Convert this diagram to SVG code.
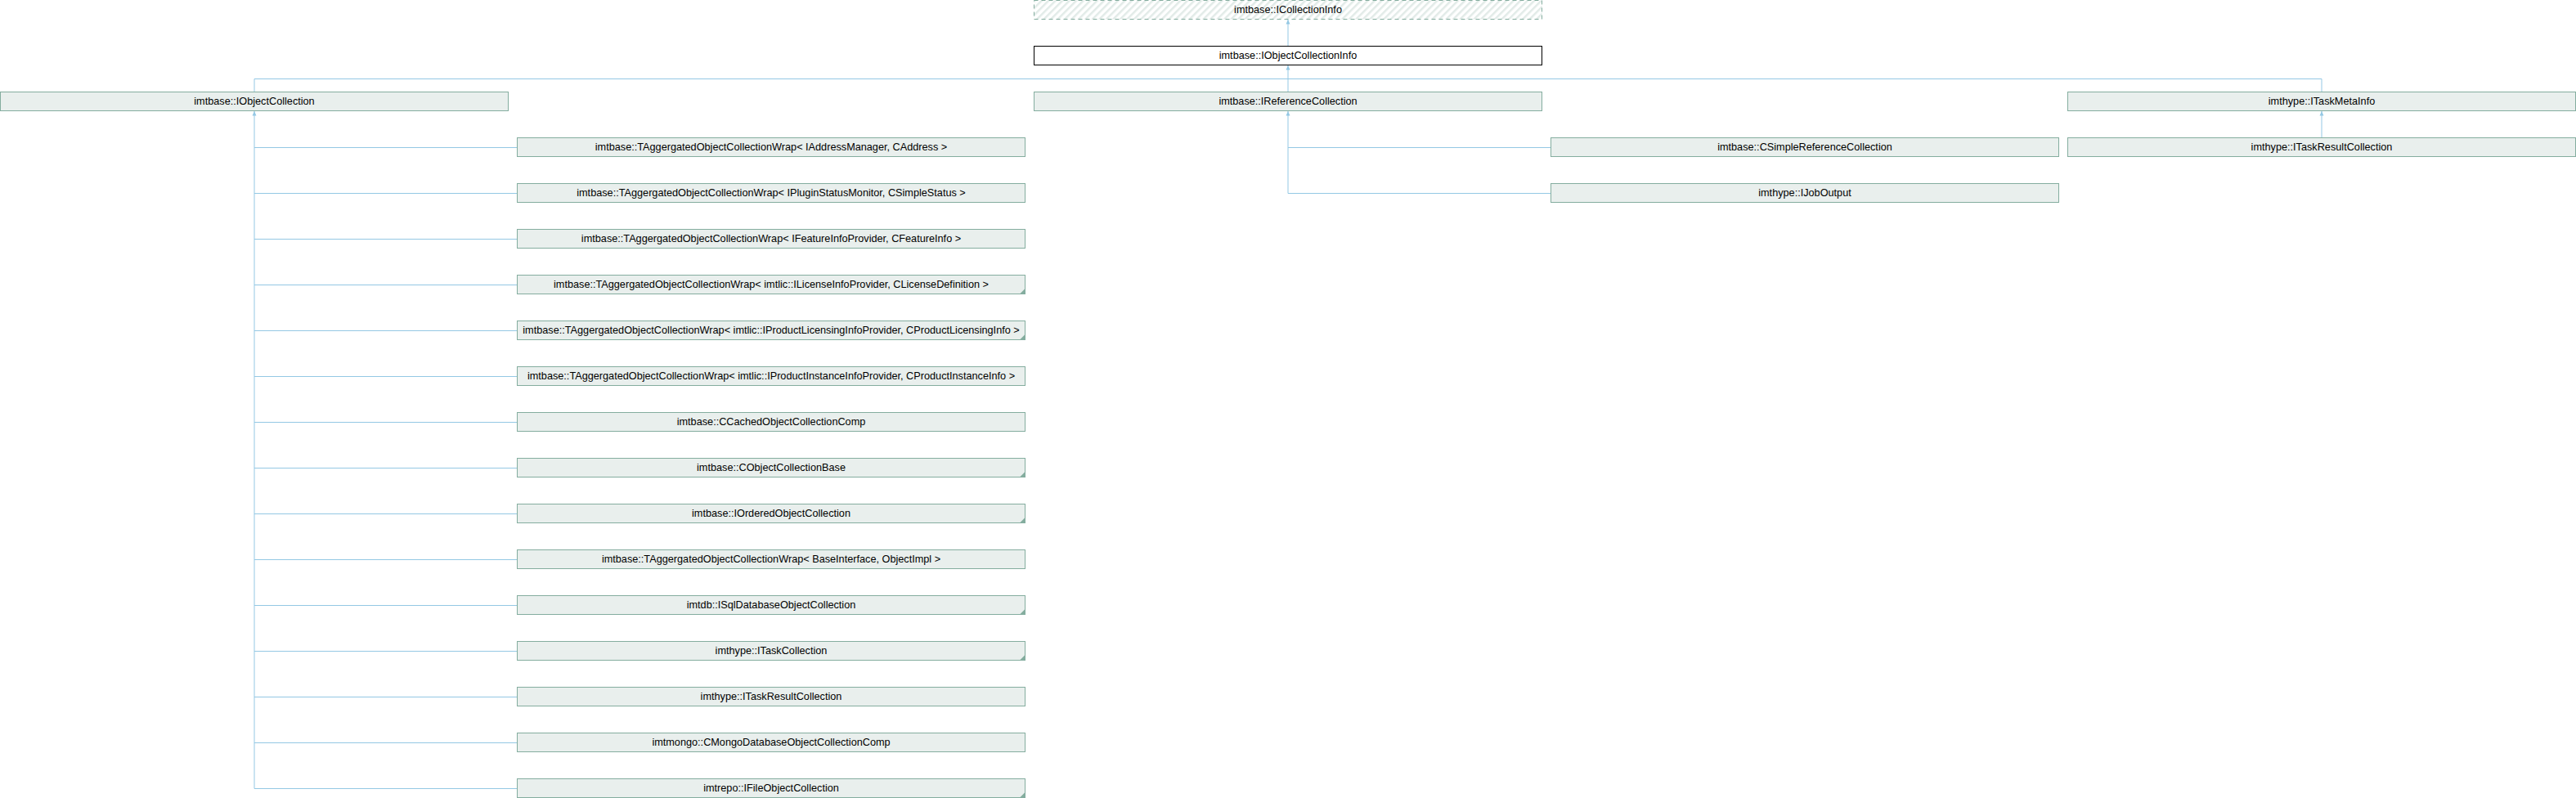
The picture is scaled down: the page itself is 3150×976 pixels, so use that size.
<svg xmlns="http://www.w3.org/2000/svg" width="3150" height="976" viewBox="0 0 3150 976">
<style>
  .box{fill:#e9efed;stroke:#84ad9f;stroke-width:1}
  .doc{fill:#ffffff;stroke:#000000;stroke-width:1}
  .undoc{fill:url(#hatch);stroke:#84ad9f;stroke-width:1;stroke-dasharray:5 4}
  .lbl{font-family:"Liberation Sans",Arial,sans-serif;font-size:12.7px;fill:#000;text-anchor:middle}
  .edge{fill:none;stroke:#94c8e4;stroke-width:1}
  .more{fill:#84ad9f}
</style>
<defs>
  <pattern id="hatch" patternUnits="userSpaceOnUse" width="6" height="6" patternTransform="rotate(45)">
    <rect x="0" y="0" width="6" height="6" fill="#ffffff"/>
    <rect x="0" y="0" width="2.5" height="6" fill="#e2ebe8"/>
  </pattern>
  <marker id="arr" markerUnits="userSpaceOnUse" markerWidth="6" markerHeight="6" viewBox="0 0 6 6" refX="5.5" refY="3" orient="auto">
    <path d="M0,0.5 L5.5,3 L0,5.5 z" fill="#94c8e4"/>
  </marker>
</defs>
<rect width="3150" height="976" fill="#ffffff"/>

<g id="connectors">
  <path class="edge" d="M1575 56.5 V24" marker-end="url(#arr)"/>
  <path class="edge" d="M311 112.5 V96.5 H2839 V112.5"/>
  <path class="edge" d="M1575 112.5 V80" marker-end="url(#arr)"/>
  <path class="edge" d="M311 964.5 V136" marker-end="url(#arr)"/>
  <path class="edge" d="M311 180.5 H632.5 M311 236.5 H632.5 M311 292.5 H632.5 M311 348.5 H632.5 M311 404.5 H632.5 M311 460.5 H632.5 M311 516.5 H632.5 M311 572.5 H632.5 M311 628.5 H632.5 M311 684.5 H632.5 M311 740.5 H632.5 M311 796.5 H632.5 M311 852.5 H632.5 M311 908.5 H632.5 M311 964.5 H632.5"/>
  <path class="edge" d="M1575 236.5 V136" marker-end="url(#arr)"/>
  <path class="edge" d="M1575 180.5 H1896.5 M1575 236.5 H1896.5"/>
  <path class="edge" d="M2839 168.5 V136" marker-end="url(#arr)"/>
</g>

<g id="n_ICollectionInfo"><rect class="undoc" x="1264.5" y="0.5" width="621" height="23"/><text class="lbl" x="1575" y="16">imtbase::ICollectionInfo</text></g>
<g id="n_IObjectCollectionInfo"><rect class="doc" x="1264.5" y="56.5" width="621" height="23"/><text class="lbl" x="1575" y="72">imtbase::IObjectCollectionInfo</text></g>

<g id="n_IObjectCollection"><rect class="box" x="0.5" y="112.5" width="621" height="23"/><text class="lbl" x="311" y="128">imtbase::IObjectCollection</text></g>
<g id="n_IReferenceCollection"><rect class="box" x="1264.5" y="112.5" width="621" height="23"/><text class="lbl" x="1575" y="128">imtbase::IReferenceCollection</text></g>
<g id="n_ITaskMetaInfo"><rect class="box" x="2528.5" y="112.5" width="621" height="23"/><text class="lbl" x="2839" y="128">imthype::ITaskMetaInfo</text></g>

<g id="n_CSimpleReferenceCollection"><rect class="box" x="1896.5" y="168.5" width="621" height="23"/><text class="lbl" x="2207" y="184">imtbase::CSimpleReferenceCollection</text></g>
<g id="n_ITaskResultCollection_meta"><rect class="box" x="2528.5" y="168.5" width="621" height="23"/><text class="lbl" x="2839" y="184">imthype::ITaskResultCollection</text></g>
<g id="n_IJobOutput"><rect class="box" x="1896.5" y="224.5" width="621" height="23"/><text class="lbl" x="2207" y="240">imthype::IJobOutput</text></g>

<g id="n_wrap_address"><rect class="box" x="632.5" y="168.5" width="621" height="23"/><text class="lbl" x="943" y="184">imtbase::TAggergatedObjectCollectionWrap&lt; IAddressManager, CAddress &gt;</text></g>
<g id="n_wrap_plugin"><rect class="box" x="632.5" y="224.5" width="621" height="23"/><text class="lbl" x="943" y="240">imtbase::TAggergatedObjectCollectionWrap&lt; IPluginStatusMonitor, CSimpleStatus &gt;</text></g>
<g id="n_wrap_feature"><rect class="box" x="632.5" y="280.5" width="621" height="23"/><text class="lbl" x="943" y="296">imtbase::TAggergatedObjectCollectionWrap&lt; IFeatureInfoProvider, CFeatureInfo &gt;</text></g>
<g id="n_wrap_license"><rect class="box" x="632.5" y="336.5" width="621" height="23"/><polygon class="more" points="1247,359.5 1253,359.5 1253,353.5"/><text class="lbl" x="943" y="352">imtbase::TAggergatedObjectCollectionWrap&lt; imtlic::ILicenseInfoProvider, CLicenseDefinition &gt;</text></g>
<g id="n_wrap_prodlic"><rect class="box" x="632.5" y="392.5" width="621" height="23"/><polygon class="more" points="1247,415.5 1253,415.5 1253,409.5"/><text class="lbl" x="943" y="408">imtbase::TAggergatedObjectCollectionWrap&lt; imtlic::IProductLicensingInfoProvider, CProductLicensingInfo &gt;</text></g>
<g id="n_wrap_prodinst"><rect class="box" x="632.5" y="448.5" width="621" height="23"/><text class="lbl" x="943" y="464">imtbase::TAggergatedObjectCollectionWrap&lt; imtlic::IProductInstanceInfoProvider, CProductInstanceInfo &gt;</text></g>
<g id="n_CCachedObjectCollectionComp"><rect class="box" x="632.5" y="504.5" width="621" height="23"/><text class="lbl" x="943" y="520">imtbase::CCachedObjectCollectionComp</text></g>
<g id="n_CObjectCollectionBase"><rect class="box" x="632.5" y="560.5" width="621" height="23"/><polygon class="more" points="1247,583.5 1253,583.5 1253,577.5"/><text class="lbl" x="943" y="576">imtbase::CObjectCollectionBase</text></g>
<g id="n_IOrderedObjectCollection"><rect class="box" x="632.5" y="616.5" width="621" height="23"/><polygon class="more" points="1247,639.5 1253,639.5 1253,633.5"/><text class="lbl" x="943" y="632">imtbase::IOrderedObjectCollection</text></g>
<g id="n_wrap_base"><rect class="box" x="632.5" y="672.5" width="621" height="23"/><text class="lbl" x="943" y="688">imtbase::TAggergatedObjectCollectionWrap&lt; BaseInterface, ObjectImpl &gt;</text></g>
<g id="n_ISqlDatabaseObjectCollection"><rect class="box" x="632.5" y="728.5" width="621" height="23"/><polygon class="more" points="1247,751.5 1253,751.5 1253,745.5"/><text class="lbl" x="943" y="744">imtdb::ISqlDatabaseObjectCollection</text></g>
<g id="n_ITaskCollection"><rect class="box" x="632.5" y="784.5" width="621" height="23"/><polygon class="more" points="1247,807.5 1253,807.5 1253,801.5"/><text class="lbl" x="943" y="800">imthype::ITaskCollection</text></g>
<g id="n_ITaskResultCollection"><rect class="box" x="632.5" y="840.5" width="621" height="23"/><text class="lbl" x="943" y="856">imthype::ITaskResultCollection</text></g>
<g id="n_CMongoDatabaseObjectCollectionComp"><rect class="box" x="632.5" y="896.5" width="621" height="23"/><text class="lbl" x="943" y="912">imtmongo::CMongoDatabaseObjectCollectionComp</text></g>
<g id="n_IFileObjectCollection"><rect class="box" x="632.5" y="952.5" width="621" height="23"/><polygon class="more" points="1247,975.5 1253,975.5 1253,969.5"/><text class="lbl" x="943" y="968">imtrepo::IFileObjectCollection</text></g>
</svg>
